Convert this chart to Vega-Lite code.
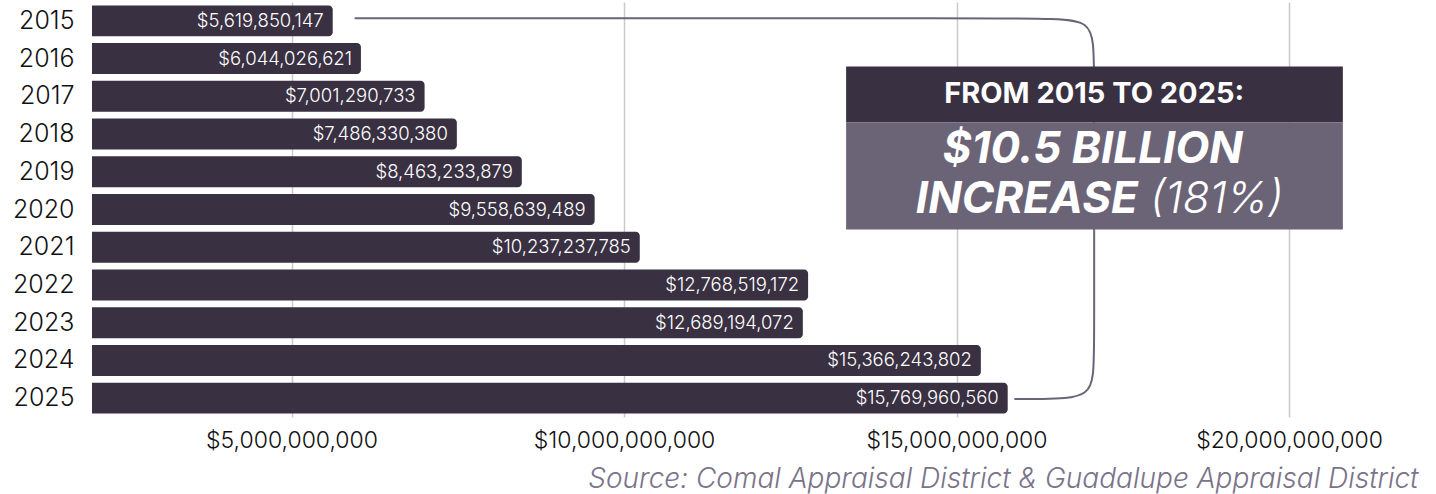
{
  "$schema": "https://vega.github.io/schema/vega-lite/v6.json",
  "width": 1330,
  "height": 415,
  "autosize": {"type": "none"},
  "padding": {"left": 92, "top": 2, "right": 14, "bottom": 77},
  "background": "white",
  "config": {"font": "Inter", "view": {"stroke": null}},
  "datasets": {
    "assessed": [
      {"year": "2015", "value": 5619850147},
      {"year": "2016", "value": 6044026621},
      {"year": "2017", "value": 7001290733},
      {"year": "2018", "value": 7486330380},
      {"year": "2019", "value": 8463233879},
      {"year": "2020", "value": 9558639489},
      {"year": "2021", "value": 10237237785},
      {"year": "2022", "value": 12768519172},
      {"year": "2023", "value": 12689194072},
      {"year": "2024", "value": 15366243802},
      {"year": "2025", "value": 15769960560}
    ],
    "bracket": [
      {"i": 0, "x": 5950000000, "yr": 2014.93},
      {"i": 1, "x": 16200000000, "yr": 2014.93},
      {"i": 2, "x": 17070000000, "yr": 2014.93},
      {"i": 3, "x": 17070000000, "yr": 2016.0},
      {"i": 4, "x": 17070000000, "yr": 2024.0},
      {"i": 5, "x": 17070000000, "yr": 2025.02},
      {"i": 6, "x": 16200000000, "yr": 2025.02},
      {"i": 7, "x": 15870000000, "yr": 2025.02}
    ]
  },
  "layer": [
    {
      "data": {"name": "assessed"},
      "encoding": {
        "y": {
          "field": "year",
          "type": "ordinal",
          "scale": {"paddingInner": 0.18, "paddingOuter": 0.09},
          "axis": {"title": null, "domain": false, "ticks": false, "grid": false, "labelFontSize": 25, "labelFontWeight": 300, "labelColor": "#111111", "labelPadding": 18}
        },
        "x": {
          "field": "value",
          "type": "quantitative",
          "scale": {"domain": [2000000000, 22000000000], "zero": false, "nice": false},
          "axis": {
            "values": [5000000000, 10000000000, 15000000000, 20000000000],
            "format": "$,.0f",
            "grid": true,
            "gridColor": "#cacaca",
            "gridWidth": 1.5,
            "domain": false,
            "ticks": false,
            "labelFontSize": 23,
            "labelFontWeight": 300,
            "labelLimit": 0,
            "labelColor": "#111111",
            "labelPadding": 12,
            "title": "Source: Comal Appraisal District & Guadalupe Appraisal District",
            "titleFontSize": 28,
            "titleFontStyle": "italic",
            "titleFontWeight": 300,
            "titleColor": "#7a7389",
            "titleAlign": "right",
            "titleAnchor": "end",
            "titleX": 1326,
            "titlePadding": 13,
            "titleLimit": 0
          }
        }
      },
      "layer": [
        {
          "mark": {"type": "bar", "color": "#393142", "cornerRadiusTopRight": 4, "cornerRadiusBottomRight": 4},
          "encoding": {"x2": {"datum": 2000000000}}
        },
        {
          "mark": {"type": "text", "align": "right", "baseline": "middle", "dx": -9, "color": "white", "fontSize": 18.5, "fontWeight": 300},
          "encoding": {"text": {"field": "value", "type": "quantitative", "format": "$,.0f"}}
        }
      ]
    },
    {
      "layer": [
        {
          "data": {"name": "bracket"},
          "mark": {"type": "line", "color": "#6b6477", "strokeWidth": 2, "interpolate": "basis"},
          "encoding": {
            "x": {"field": "x", "type": "quantitative"},
            "y": {"field": "yr", "type": "quantitative", "scale": {"domain": [2014.5, 2025.5], "reverse": true, "nice": false, "zero": false}, "axis": null},
            "order": {"field": "i"}
          }
        },
        {
          "data": {"values": [{}]},
          "mark": {"type": "rect", "color": "#393142"},
          "encoding": {
            "x": {"datum": 13340000000, "type": "quantitative"},
            "x2": {"datum": 20810000000},
            "y": {"datum": 2016.21, "type": "quantitative"},
            "y2": {"datum": 2017.69}
          }
        },
        {
          "data": {"values": [{}]},
          "mark": {"type": "rect", "color": "#6b6477"},
          "encoding": {
            "x": {"datum": 13340000000, "type": "quantitative"},
            "x2": {"datum": 20810000000},
            "y": {"datum": 2017.69, "type": "quantitative"},
            "y2": {"datum": 2020.53}
          }
        },
        {
          "data": {"values": [{"t": "FROM 2015 TO 2025:"}]},
          "mark": {"type": "text", "align": "center", "baseline": "middle", "color": "white", "fontSize": 29, "fontWeight": "bold"},
          "encoding": {
            "x": {"datum": 17070000000, "type": "quantitative"},
            "y": {"datum": 2016.95, "type": "quantitative"},
            "text": {"field": "t"}
          }
        },
        {
          "data": {"values": [{"t": "$10.5 BILLION"}]},
          "mark": {"type": "text", "align": "center", "baseline": "middle", "color": "white", "fontSize": 44, "fontWeight": "bold", "fontStyle": "italic"},
          "encoding": {
            "x": {"datum": 17050000000, "type": "quantitative"},
            "y": {"datum": 2018.42, "type": "quantitative"},
            "text": {"field": "t"}
          }
        },
        {
          "data": {"values": [{"t": "INCREASE"}]},
          "mark": {"type": "text", "align": "right", "baseline": "middle", "color": "white", "fontSize": 44, "fontWeight": "bold", "fontStyle": "italic"},
          "encoding": {
            "x": {"datum": 17730000000, "type": "quantitative"},
            "y": {"datum": 2019.75, "type": "quantitative"},
            "text": {"field": "t"}
          }
        },
        {
          "data": {"values": [{"t": "(181%)"}]},
          "mark": {"type": "text", "align": "left", "baseline": "middle", "color": "white", "fontSize": 44, "fontWeight": 300, "fontStyle": "italic"},
          "encoding": {
            "x": {"datum": 17910000000, "type": "quantitative"},
            "y": {"datum": 2019.75, "type": "quantitative"},
            "text": {"field": "t"}
          }
        }
      ]
    }
  ],
  "resolve": {"scale": {"y": "independent"}, "axis": {"y": "independent"}}
}
